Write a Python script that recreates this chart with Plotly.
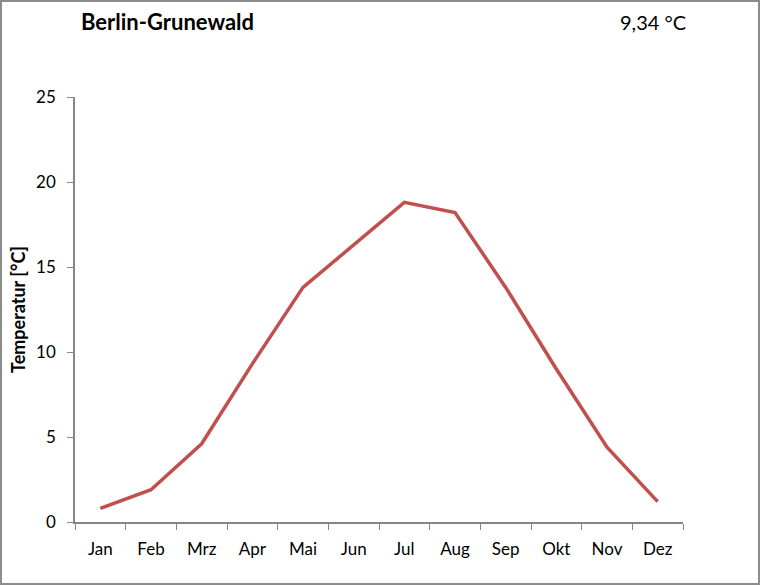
import plotly.graph_objects as go

months = ["Jan", "Feb", "Mrz", "Apr", "Mai", "Jun", "Jul", "Aug", "Sep", "Okt", "Nov", "Dez"]
temps = [0.8, 1.9, 4.6, 9.3, 13.8, 16.3, 18.8, 18.2, 13.8, 9.0, 4.4, 1.2]
title_text = "Berlin-Grunewald"
mean_text = "9,34 °C"
y_title = "Temperatur [°C]"

W, H = 760, 585
L, R, T, B = 75, 77, 97, 63
pw, ph = W - L - R, H - T - B

fig = go.Figure()
fig.add_trace(go.Scatter(x=months, y=temps, mode="lines",
                         line=dict(color="#C0504D", width=3.5),
                         showlegend=False, hoverinfo="skip"))

axis_col = "#868686"
fig.update_layout(
    width=W, height=H,
    margin=dict(l=L, r=R, t=T, b=B),
    paper_bgcolor="white", plot_bgcolor="white",
    font=dict(family="Lato, 'Noto Sans', sans-serif", size=17, color="#000000"),
    xaxis=dict(type="category", tickson="boundaries", ticks="outside", ticklen=6,
               tickcolor=axis_col, showline=True, linecolor=axis_col, linewidth=1.5,
               showgrid=False, zeroline=False, range=[-0.5, 11.5],
               tickfont=dict(size=17), ticklabelstandoff=11),
    yaxis=dict(range=[0, 25], tickvals=[0, 5, 10, 15, 20, 25], ticks="outside",
               ticklen=6, tickcolor=axis_col, showline=True, linecolor=axis_col,
               linewidth=1.5, showgrid=False, zeroline=False,
               tickfont=dict(size=17), ticklabelstandoff=8,
               title=dict(text="<b>" + y_title + "</b>", font=dict(size=18), standoff=6)),
)

fig.add_annotation(text="<b>" + title_text + "</b>", xref="paper", yref="paper",
                   x=(79 - L) / pw, y=1 + (T - 22) / ph, xanchor="left", yanchor="middle",
                   showarrow=False, font=dict(size=22))
fig.add_annotation(text=mean_text, xref="paper", yref="paper",
                   x=(688 - L) / pw, y=1 + (T - 22) / ph, xanchor="right", yanchor="middle",
                   showarrow=False, font=dict(size=20))

fig.add_shape(type="rect", xref="paper", yref="paper",
              x0=(1 - L) / pw, x1=(W - 1 - L) / pw,
              y0=-(B - 1) / ph, y1=1 + (T - 1) / ph,
              line=dict(color="#8C8C8C", width=2), layer="below")

fig.write_html("out.html")
